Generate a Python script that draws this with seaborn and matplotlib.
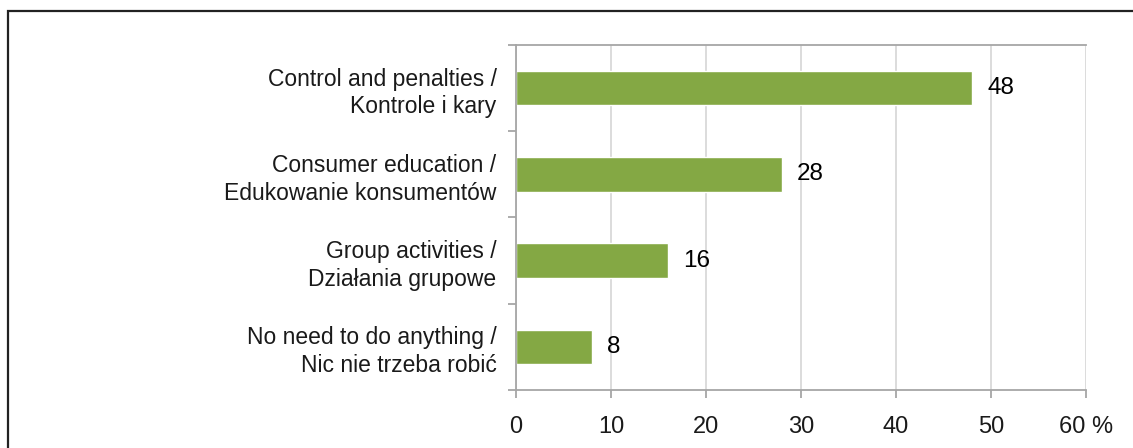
import matplotlib
matplotlib.use("Agg")
import matplotlib.pyplot as plt
import seaborn as sns
import pandas as pd
from matplotlib.patches import Rectangle

# data
categories = [
    "Control and penalties /\nKontrole i kary",
    "Consumer education /\nEdukowanie konsumentów",
    "Group activities /\nDziałania grupowe",
    "No need to do anything /\nNic nie trzeba robić",
]
values = [48, 28, 16, 8]
xticks = [0, 10, 20, 30, 40, 50, 60]
xtick_labels = ["0", "10", "20", "30", "40", "50", "60 %"]

df = pd.DataFrame({"cat": categories, "val": values})

sns.set_style("white")
plt.rcParams["font.family"] = ["Liberation Sans", "DejaVu Sans"]

green = "#84A844"
grid_c = "#D9D9D9"
axis_c = "#A6A6A6"
text_c = "#1A1A1A"

fig = plt.figure(figsize=(11.33, 4.48), dpi=100)
ax = fig.add_axes([516 / 1133, 58 / 448, 570 / 1133, 345 / 448])

sns.barplot(data=df, x="val", y="cat", color=green, saturation=1,
            width=0.4, ax=ax, orient="h")

ax.set_xlim(0, 60)
ax.set_ylim(3.5, -0.5)
ax.set_xticks(xticks)
ax.set_xticklabels(xtick_labels)
ax.set_xlabel("")
ax.set_ylabel("")

# vertical gridlines
ax.set_axisbelow(True)
ax.xaxis.grid(True, color=grid_c, linewidth=1.3)
ax.yaxis.grid(False)

for side in ["left", "bottom", "top"]:
    ax.spines[side].set_visible(True)
    ax.spines[side].set_color(axis_c)
    ax.spines[side].set_linewidth(1.3)
ax.spines["right"].set_visible(False)

# category ticks sit between the bars
ax.set_yticks([0, 1, 2, 3])
ax.set_yticklabels(categories, linespacing=1.27)
ax.set_yticks([-0.5, 0.5, 1.5, 2.5, 3.5], minor=True)
ax.tick_params(axis="y", which="major", length=0, pad=14,
               labelsize=16.5, labelcolor=text_c)
ax.tick_params(axis="y", which="minor", length=6, width=1.3, color=axis_c,
               direction="out", left=True)
ax.tick_params(axis="x", length=6, width=1.3, color=axis_c, direction="out",
               pad=12.5, labelsize=17, labelcolor=text_c, bottom=True)
for lab in ax.get_yticklabels():
    lab.set_horizontalalignment("right")
    lab.set_multialignment("right")

# value labels
for i, v in enumerate(values):
    ax.text(v + 1.6, i, str(v), va="center", ha="left",
            fontsize=17.5, color="black")

# outer frame, cut by the right and bottom edge of the image
fig.patches.append(Rectangle((8 / 1133, -0.1), 1.2, (448 - 11) / 448 + 0.1,
                             transform=fig.transFigure, fill=False,
                             edgecolor="#222222", linewidth=1.6))

fig.savefig("out.png", dpi=100)
